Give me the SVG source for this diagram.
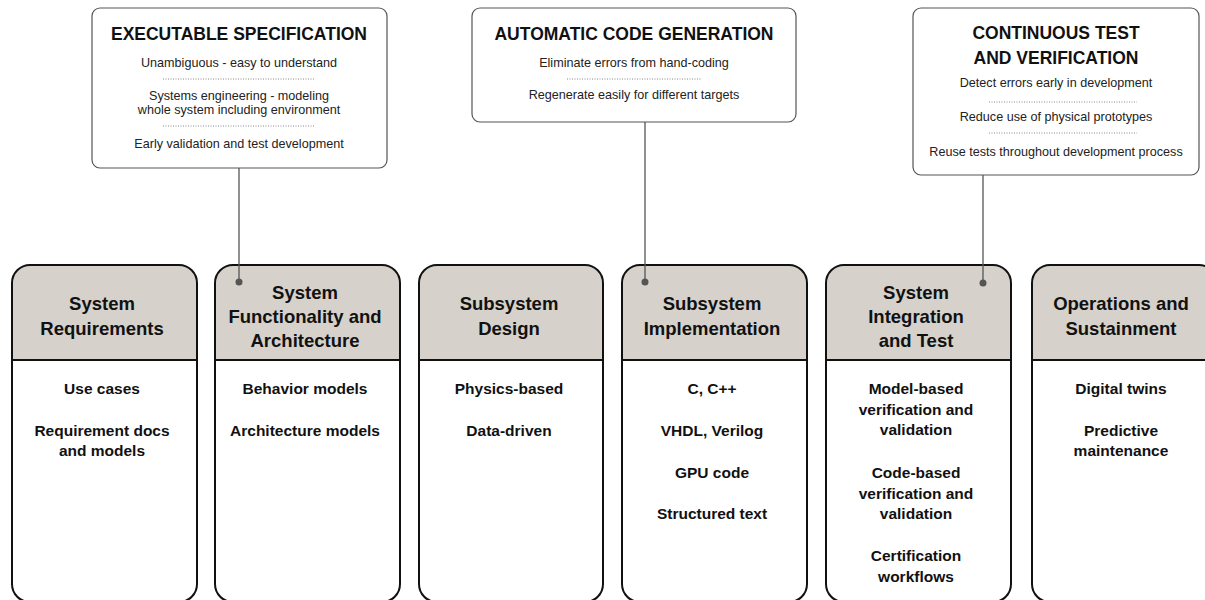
<svg xmlns="http://www.w3.org/2000/svg" width="1205" height="600" viewBox="0 0 1205 600">
<style>
.callout{fill:#fff;stroke:#555;stroke-width:1.2}
.ctitle{font-family:"Liberation Sans",Arial,sans-serif;font-weight:bold;font-size:17.5px;fill:#111;text-anchor:middle}
.ctext{font-family:"Liberation Sans",Arial,sans-serif;font-size:12.6px;fill:#222;text-anchor:middle}
.dots{stroke:#888;stroke-width:1;stroke-dasharray:1 1.5}
.col{fill:none;stroke:#111;stroke-width:2}
.head{fill:#d6d1cb}
.sep{stroke:#111;stroke-width:2}
.htext{font-family:"Liberation Sans",Arial,sans-serif;font-weight:bold;font-size:18.5px;fill:#111;text-anchor:middle}
.btext{font-family:"Liberation Sans",Arial,sans-serif;font-weight:bold;font-size:15.5px;fill:#111;text-anchor:middle}
.conn{stroke:#555;stroke-width:1.3;fill:none}
.dot{fill:#555}
</style>

<g id="callout-exec-spec">
<rect class="callout" x="92" y="8" width="295" height="160" rx="8"/>
<text class="ctitle" x="239" y="40">EXECUTABLE SPECIFICATION</text>
<text class="ctext" x="239" y="67">Unambiguous - easy to understand</text>
<line class="dots" x1="163" y1="79" x2="315" y2="79"/>
<text class="ctext" x="239" y="100">Systems engineering - modeling</text>
<text class="ctext" x="239" y="114">whole system including environment</text>
<line class="dots" x1="163" y1="126" x2="315" y2="126"/>
<text class="ctext" x="239" y="148">Early validation and test development</text>
</g>

<g id="callout-code-gen">
<rect class="callout" x="472" y="8" width="324" height="114" rx="8"/>
<text class="ctitle" x="634" y="40">AUTOMATIC CODE GENERATION</text>
<text class="ctext" x="634" y="67">Eliminate errors from hand-coding</text>
<line class="dots" x1="567" y1="79" x2="701" y2="79"/>
<text class="ctext" x="634" y="99">Regenerate easily for different targets</text>
</g>

<g id="callout-test">
<rect class="callout" x="913" y="8" width="286" height="167" rx="8"/>
<text class="ctitle" x="1056" y="39">CONTINUOUS TEST</text>
<text class="ctitle" x="1056" y="64">AND VERIFICATION</text>
<text class="ctext" x="1056" y="87">Detect errors early in development</text>
<line class="dots" x1="989" y1="102" x2="1137" y2="102"/>
<text class="ctext" x="1056" y="121">Reduce use of physical prototypes</text>
<line class="dots" x1="989" y1="133" x2="1137" y2="133"/>
<text class="ctext" x="1056" y="156">Reuse tests throughout development process</text>
</g>

<g id="col-system-requirements">
<path class="head" d="M12,360 V283 A18,18 0 0 1 30,265 H179 A18,18 0 0 1 197,283 V360 Z"/>
<rect class="col" x="12" y="265" width="185" height="337" rx="18"/>
<line class="sep" x1="12" y1="360" x2="197" y2="360"/>
<text class="htext" x="102" y="310">System</text>
<text class="htext" x="102" y="335">Requirements</text>
<text class="btext" x="102" y="394">Use cases</text>
<text class="btext" x="102" y="436">Requirement docs</text>
<text class="btext" x="102" y="456">and models</text>
</g>

<g id="col-system-functionality">
<path class="head" d="M215,360 V283 A18,18 0 0 1 233,265 H382 A18,18 0 0 1 400,283 V360 Z"/>
<rect class="col" x="215" y="265" width="185" height="337" rx="18"/>
<line class="sep" x1="215" y1="360" x2="400" y2="360"/>
<text class="htext" x="305" y="299">System</text>
<text class="htext" x="305" y="323">Functionality and</text>
<text class="htext" x="305" y="347">Architecture</text>
<text class="btext" x="305" y="394">Behavior models</text>
<text class="btext" x="305" y="436">Architecture models</text>
</g>

<g id="col-subsystem-design">
<path class="head" d="M419,360 V283 A18,18 0 0 1 437,265 H585 A18,18 0 0 1 603,283 V360 Z"/>
<rect class="col" x="419" y="265" width="184" height="337" rx="18"/>
<line class="sep" x1="419" y1="360" x2="603" y2="360"/>
<text class="htext" x="509" y="310">Subsystem</text>
<text class="htext" x="509" y="335">Design</text>
<text class="btext" x="509" y="394">Physics-based</text>
<text class="btext" x="509" y="436">Data-driven</text>
</g>

<g id="col-subsystem-implementation">
<path class="head" d="M622,360 V283 A18,18 0 0 1 640,265 H789 A18,18 0 0 1 807,283 V360 Z"/>
<rect class="col" x="622" y="265" width="185" height="337" rx="18"/>
<line class="sep" x1="622" y1="360" x2="807" y2="360"/>
<text class="htext" x="712" y="310">Subsystem</text>
<text class="htext" x="712" y="335">Implementation</text>
<text class="btext" x="712" y="394">C, C++</text>
<text class="btext" x="712" y="436">VHDL, Verilog</text>
<text class="btext" x="712" y="478">GPU code</text>
<text class="btext" x="712" y="519">Structured text</text>
</g>

<g id="col-system-integration">
<path class="head" d="M826,360 V283 A18,18 0 0 1 844,265 H993 A18,18 0 0 1 1011,283 V360 Z"/>
<rect class="col" x="826" y="265" width="185" height="337" rx="18"/>
<line class="sep" x1="826" y1="360" x2="1011" y2="360"/>
<text class="htext" x="916" y="299">System</text>
<text class="htext" x="916" y="323">Integration</text>
<text class="htext" x="916" y="347">and Test</text>
<text class="btext" x="916" y="394">Model-based</text>
<text class="btext" x="916" y="415">verification and</text>
<text class="btext" x="916" y="435">validation</text>
<text class="btext" x="916" y="478">Code-based</text>
<text class="btext" x="916" y="499">verification and</text>
<text class="btext" x="916" y="519">validation</text>
<text class="btext" x="916" y="561">Certification</text>
<text class="btext" x="916" y="582">workflows</text>
</g>

<g id="col-operations">
<path class="head" d="M1032,360 V283 A18,18 0 0 1 1050,265 H1199 A18,18 0 0 1 1217,283 V360 Z"/>
<rect class="col" x="1032" y="265" width="185" height="337" rx="18"/>
<line class="sep" x1="1032" y1="360" x2="1217" y2="360"/>
<text class="htext" x="1121" y="310">Operations and</text>
<text class="htext" x="1121" y="335">Sustainment</text>
<text class="btext" x="1121" y="394">Digital twins</text>
<text class="btext" x="1121" y="436">Predictive</text>
<text class="btext" x="1121" y="456">maintenance</text>
</g>

<g id="connectors">
<line class="conn" x1="239" y1="168" x2="239" y2="282"/>
<circle class="dot" cx="239" cy="282" r="3.5"/>
<line class="conn" x1="645" y1="122" x2="645" y2="282"/>
<circle class="dot" cx="645" cy="282" r="3.5"/>
<line class="conn" x1="983" y1="175" x2="983" y2="283"/>
<circle class="dot" cx="983" cy="283" r="3.5"/>
</g>
</svg>
